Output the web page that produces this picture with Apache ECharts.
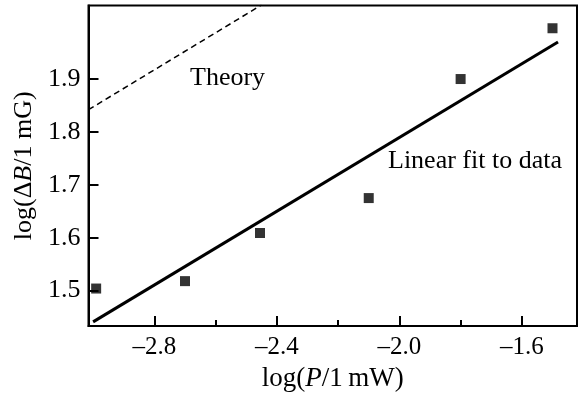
<!DOCTYPE html>
<html><head><meta charset="utf-8">
<script src="https://cdn.jsdelivr.net/npm/echarts@6/dist/echarts.min.js"></script>
<style>html,body{margin:0;padding:0;background:#fff}#c{width:580px;height:397px}</style>
</head><body><div id="c"></div>
<script>
// data
const logP = [-2.99, -2.70, -2.455, -2.10, -1.80, -1.50];
const logB = [1.504, 1.518, 1.609, 1.675, 1.900, 1.996];
const fitX = [-3.00, -1.482];
const fitY = [1.441, 1.970];
const theoryX = [-3.015, -2.45];
const theoryY = [1.842, 2.040];
const xMajorTicks = [-2.8, -2.4, -2.0, -1.6];
const xMinorTicks = [-2.6, -2.2, -1.8];
const yTicks = [1.5, 1.6, 1.7, 1.8, 1.9];
const xRange = [-3.015, -1.42];
const yRange = [1.433, 2.039];

const FONT = 'Liberation Serif';
const chart = echarts.init(document.getElementById('c'));
const fmtX = v => '\u2013' + Math.abs(v).toFixed(1);
const pairs = (xs, ys) => xs.map((x, i) => [x, ys[i]]);

chart.setOption({
  animation: false,
  grid: {left: 88.5, right: 3, top: 5.5, bottom: 70.5, show: true, borderColor: '#000', borderWidth: 2, backgroundColor: 'transparent'},
  xAxis: [{
    type: 'value', min: xRange[0], max: xRange[1],
    axisLine: {show: true, lineStyle: {color: '#000', width: 2}},
    axisTick: {show: true, inside: true, length: 10, lineStyle: {color: '#000', width: 2}, customValues: xMajorTicks},
    axisLabel: {show: true, customValues: xMajorTicks, formatter: fmtX, color: '#000', fontFamily: FONT, fontSize: 25, margin: 9},
    splitLine: {show: false},
    name: '{n|log(}{i|P}{n|/1\u2009mW)}', nameLocation: 'middle', nameGap: 37,
    nameTextStyle: {rich: {n: {fontFamily: FONT, fontSize: 27, color: '#000'}, i: {fontFamily: FONT, fontSize: 27, fontStyle: 'italic', color: '#000'}}}
  }, {
    type: 'value', min: xRange[0], max: xRange[1], position: 'bottom',
    axisLine: {show: false},
    axisTick: {show: true, inside: true, length: 6, lineStyle: {color: '#000', width: 2}, customValues: xMinorTicks},
    axisLabel: {show: false}, splitLine: {show: false}
  }],
  yAxis: {
    type: 'value', min: yRange[0], max: yRange[1],
    axisLine: {show: true, lineStyle: {color: '#000', width: 2}},
    axisTick: {show: true, inside: true, length: 10, lineStyle: {color: '#000', width: 2}, customValues: yTicks},
    axisLabel: {show: true, customValues: yTicks, formatter: v => v.toFixed(1), color: '#000', fontFamily: FONT, fontSize: 26, margin: 8},
    splitLine: {show: false},
    name: '{n|log(Δ}{i|B}{n|/1 mG)}', nameLocation: 'middle', nameGap: 50, nameRotate: 90,
    nameTextStyle: {rich: {n: {fontFamily: FONT, fontSize: 26, color: '#000'}, i: {fontFamily: FONT, fontSize: 26, fontStyle: 'italic', color: '#000'}}}
  },
  series: [
    {type: 'line', data: pairs(theoryX, theoryY), symbol: 'none', clip: true,
     lineStyle: {color: '#000', width: 1.5, type: [6, 4]}},
    {type: 'line', data: pairs(fitX, fitY), symbol: 'none',
     lineStyle: {color: '#000', width: 3}},
    {type: 'scatter', data: pairs(logP, logB), symbol: 'rect', symbolSize: 10,
     itemStyle: {color: '#000'}}
  ],
  graphic: [
    {type: 'text', x: 190, y: 78, style: {text: 'Theory', font: '26px "Liberation Serif"', fill: '#000', verticalAlign: 'middle'}},
    {type: 'text', x: 388, y: 161, style: {text: 'Linear fit to data', font: '26px "Liberation Serif"', fill: '#000', verticalAlign: 'middle'}}
  ]
});
</script></body></html>
